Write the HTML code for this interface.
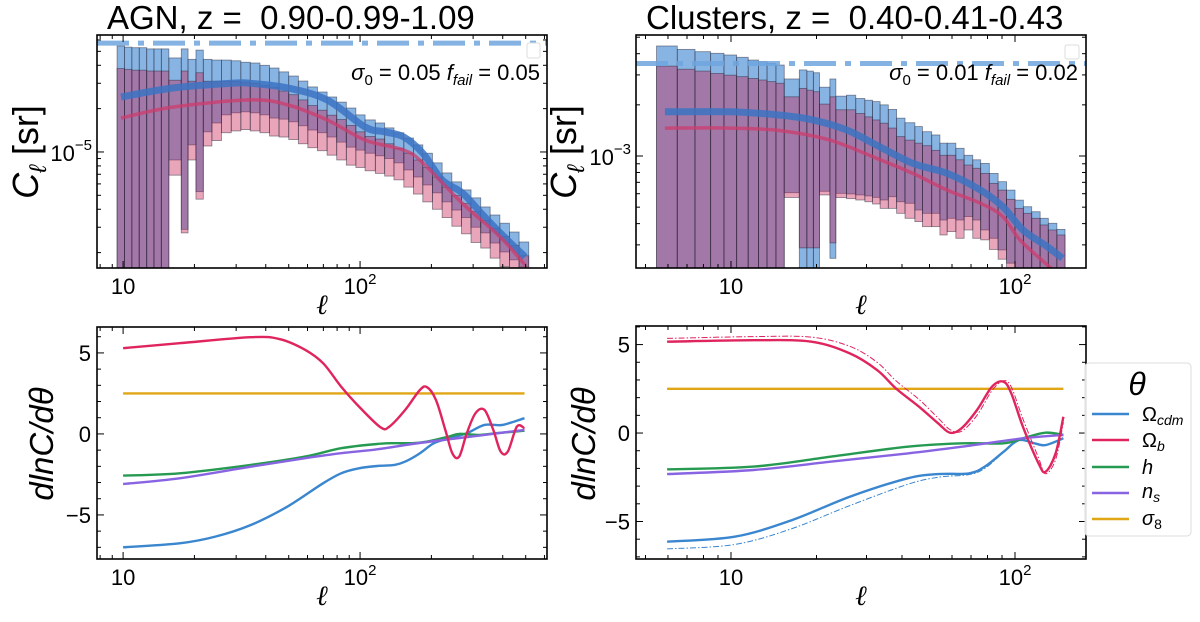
<!DOCTYPE html>
<html><head><meta charset="utf-8">
<style>
html,body{margin:0;padding:0;background:#fff;}
svg{display:block;font-family:"Liberation Sans","DejaVu Sans",sans-serif;}
</style></head>
<body>
<svg id="fig" width="1200" height="622" viewBox="0 0 1200 622" xmlns="http://www.w3.org/2000/svg"></svg>
<script>
// ---------- AGN top panel data ----------
const agnEdges=[9.43,10.14,10.89,11.7,12.58,13.5,14.5,15.6,17.6,18.8,20.3,21.8,23.7,26.0,28.6,31.4,34.4,37.8,41.5,45.5,50.0,54.9,60.2,66.1,72.6,79.7,87.5,96.0,105,116,127,139,153,168,184,202,222,244,268,294,323,354,389,427,469,515];
const agnBlueTop=[5.45e-5,5.35e-5,5.3e-5,5.3e-5,5.2e-5,5.2e-5,5.2e-5,4.5e-5,5.2e-5,4.4e-5,5.1e-5,4.4e-5,4.35e-5,4.35e-5,4.3e-5,4.2e-5,4.15e-5,4.0e-5,3.83e-5,3.6e-5,3.37e-5,3.11e-5,2.83e-5,2.61e-5,2.41e-5,2.22e-5,2.02e-5,1.81e-5,1.67e-5,1.59e-5,1.47e-5,1.36e-5,1.25e-5,1.12e-5,9.8e-6,8.4e-6,7.15e-6,6.2e-6,5.45e-6,4.8e-6,4.15e-6,3.65e-6,3.2e-6,2.78e-6,2.37e-6];
const agnPinkTop=[3.8e-5,3.75e-5,3.7e-5,3.7e-5,3.65e-5,3.65e-5,3.65e-5,3.15e-5,3.65e-5,3.1e-5,3.55e-5,3.1e-5,3.1e-5,3.1e-5,3.1e-5,3.05e-5,3.0e-5,2.9e-5,2.8e-5,2.65e-5,2.5e-5,2.3e-5,2.1e-5,1.95e-5,1.8e-5,1.68e-5,1.53e-5,1.38e-5,1.28e-5,1.23e-5,1.14e-5,1.06e-5,9.8e-6,8.8e-6,7.8e-6,6.7e-6,5.7e-6,5.0e-6,4.4e-6,3.85e-6,3.35e-6,2.95e-6,2.58e-6,2.24e-6,1.9e-6];
const agnBlueBot=[1e-7,1e-7,1e-7,1e-7,1e-7,1e-7,1e-7,8.8e-6,2.9e-6,1.12e-5,5.3e-6,1.38e-5,1.59e-5,1.81e-5,1.87e-5,1.9e-5,1.87e-5,1.81e-5,1.72e-5,1.69e-5,1.62e-5,1.52e-5,1.42e-5,1.36e-5,1.27e-5,1.17e-5,1.08e-5,1.03e-5,9.8e-6,9.4e-6,9.0e-6,8.4e-6,7.5e-6,6.7e-6,5.9e-6,5.2e-6,4.5e-6,3.95e-6,3.5e-6,3.0e-6,2.74e-6,2.33e-6,2.02e-6,1.78e-6,1.6e-6];
const agnPinkBot=[1e-7,1e-7,1e-7,1e-7,1e-7,1e-7,1e-7,6.9e-6,2.74e-6,8.8e-6,4.7e-6,1.1e-5,1.2e-5,1.36e-5,1.4e-5,1.43e-5,1.4e-5,1.36e-5,1.29e-5,1.27e-5,1.22e-5,1.14e-5,1.07e-5,1.02e-5,9.5e-6,8.8e-6,8.1e-6,7.8e-6,7.4e-6,7.1e-6,6.8e-6,6.4e-6,5.7e-6,5.1e-6,4.5e-6,4.0e-6,3.5e-6,3.05e-6,2.7e-6,2.35e-6,2.15e-6,1.83e-6,1.6e-6,1.4e-6,1.27e-6];
const agnBlueLineEll=[9.8,16.2,28.6,34.4,49.7,72.5,105,127,153,184,222,270,324,390,497];
const agnBlueLineVal=[2.41e-5,2.78e-5,3.0e-5,3.0e-5,2.78e-5,2.3e-5,1.49e-5,1.38e-5,1.27e-5,9.8e-6,6.4e-6,5.2e-6,3.77e-6,2.74e-6,1.87e-6];
const agnPinkLineEll=[9.8,16.2,34.4,49.7,72.5,105,153,184,270,390,497];
const agnPinkLineVal=[1.72e-5,2.05e-5,2.3e-5,2.12e-5,1.67e-5,1.21e-5,1.03e-5,8.4e-6,4.4e-6,2.57e-6,1.64e-6];
const agnShotNoise=[5.7e-5];
// ---------- Clusters top panel data ----------
const cluEdges=[5.47,6.47,7.47,8.48,9.45,10.47,11.5,12.5,13.4,14.4,15.4,17.4,18.5,19.5,20.5,22.3,23.4,25.5,27.5,29.6,31.5,33.5,35.8,38.3,41.0,44.4,47.2,50.9,54.4,57.7,61.9,66.2,71.0,75.7,81.2,87.2,93.4,100,107,114.5,122.6,131,140.4,150];
const cluBlueTop=[4.44e-3,4.24e-3,4.11e-3,4.02e-3,3.93e-3,3.81e-3,3.67e-3,3.59e-3,3.51e-3,3.43e-3,2.84e-3,3.21e-3,3.16e-3,3.09e-3,2.54e-3,2.84e-3,2.25e-3,2.28e-3,2.18e-3,2.13e-3,2.09e-3,2.0e-3,1.88e-3,1.67e-3,1.57e-3,1.49e-3,1.39e-3,1.33e-3,1.19e-3,1.19e-3,1.11e-3,1.01e-3,9.5e-4,9.05e-4,7.9e-4,7.06e-4,6.3e-4,5.5e-4,5.03e-4,4.7e-4,4.3e-4,4.02e-4,3.7e-4];
const cluPinkTop=[3.38e-3,3.24e-3,3.16e-3,3.06e-3,2.99e-3,2.93e-3,2.86e-3,2.8e-3,2.74e-3,2.68e-3,2.23e-3,2.5e-3,2.44e-3,2.39e-3,2.02e-3,2.23e-3,1.87e-3,1.87e-3,1.78e-3,1.7e-3,1.63e-3,1.56e-3,1.46e-3,1.3e-3,1.24e-3,1.19e-3,1.15e-3,1.08e-3,1.01e-3,1.01e-3,9.5e-4,8.85e-4,8.47e-4,7.9e-4,6.9e-4,6.3e-4,5.56e-4,4.92e-4,4.6e-4,4.3e-4,3.93e-4,3.67e-4,3.43e-4];
const cluBlueBot=[1e-5,1e-5,1e-5,1e-5,1e-5,1e-5,1e-5,1e-5,1e-5,1e-5,6.08e-4,1e-5,1e-5,1e-5,6.2e-4,2.5e-4,6.03e-4,5.98e-4,5.9e-4,5.82e-4,5.71e-4,5.51e-4,5.76e-4,5.38e-4,5.27e-4,4.81e-4,4.6e-4,4.6e-4,4.2e-4,4.3e-4,4.2e-4,4.4e-4,4.2e-4,3.67e-4,3.28e-4,2.8e-4,2.34e-4,1e-5,1e-5,1e-5,1e-5,1e-5,1e-5];
const cluPinkBot=[1e-5,1e-5,1e-5,1e-5,1e-5,1e-5,1e-5,1e-5,1e-5,1e-5,5.7e-4,2.88e-4,2.88e-4,2.88e-4,5.9e-4,3.08e-4,5.69e-4,5.61e-4,5.51e-4,5.38e-4,5.22e-4,4.92e-4,4.92e-4,4.6e-4,4.3e-4,4.11e-4,3.84e-4,3.84e-4,3.43e-4,3.59e-4,3.28e-4,3.67e-4,3.28e-4,3.21e-4,2.82e-4,2.47e-4,2.1e-4,1e-5,1e-5,1e-5,1e-5,1e-5,1e-5];
const cluBlueLineEll=[5.85,9.92,14.9,19.4,25.6,33.5,43.7,57.7,75.6,90.6,106.7,129.8,147];
const cluBlueLineVal=[1.82e-3,1.82e-3,1.74e-3,1.63e-3,1.42e-3,1.13e-3,9.05e-4,7.9e-4,6.3e-4,5.03e-4,3.67e-4,2.93e-4,2.5e-4];
const cluPinkLineEll=[5.85,9.92,14.9,22.3,33.5,43.7,57.7,75.6,90.6,104,129.8,140];
const cluPinkLineVal=[1.46e-3,1.46e-3,1.41e-3,1.24e-3,9.5e-4,7.9e-4,6.3e-4,5.27e-4,4.4e-4,3.21e-4,2.29e-4,2.05e-4];
const cluShotNoise=[3.5e-3];
// ---------- derivative panels ----------
const agnObEll=[10,17.3,34.6,45.9,58.6,69.9,83.2,98.9,122,133,155,179,192,209,229,245,262,282,307,335,365,392,420,459,494];
const agnObVal=[5.29,5.6,5.97,5.85,5.19,4.36,2.92,1.69,0.41,0.45,1.48,2.72,2.88,2.1,0.25,-1.19,-1.4,0.04,1.28,1.48,0.25,-1.09,-1.09,0.45,0.35];
const agnOcEll=[10,17.3,24.5,34.6,49.3,69.9,83.2,98.9,118,140,155,179,205,237,282,335,399,494];
const agnOcVal=[-7.0,-6.75,-6.34,-5.62,-4.49,-3.04,-2.43,-2.12,-1.98,-1.91,-1.71,-1.19,-0.57,-0.27,0.04,0.56,0.56,0.97];
const agnHEll=[10,17.3,34.6,58.6,83.2,118,140,166,192,237,262,317,380,494];
const agnHVal=[-2.57,-2.43,-1.91,-1.4,-0.88,-0.62,-0.57,-0.57,-0.47,-0.16,0,-0.06,0.05,0.2];
const agnNsEll=[10,17.3,34.6,58.6,83.2,118,166,237,335,494];
const agnNsVal=[-3.09,-2.74,-2.02,-1.5,-1.19,-0.95,-0.62,-0.33,-0.06,0.25];
const agnS8Ell=[10,494];
const agnS8Val=[2.5,2.5];
const cluObEll=[5.96,12.0,19.2,26.2,32.7,38.1,45.9,53.6,59,64.8,73.5,83,91.1,97,106.6,121,128,139,148];
const cluObVal=[5.16,5.25,5.16,4.5,3.56,2.52,1.49,0.55,0.02,0.27,1.3,2.62,2.9,2.24,0.36,-1.71,-2.19,-1.15,0.92];
const cluObDashVal=[5.35,5.45,5.42,4.9,4.0,2.95,1.9,0.85,0.2,0.1,1.0,2.4,2.95,2.6,0.8,-1.4,-2.3,-1.5,0.6];
const cluOcEll=[5.96,10.3,16.4,26.2,41.9,53.6,68.8,78.3,91.1,103,117,128,148];
const cluOcVal=[-6.14,-5.86,-4.92,-3.6,-2.56,-2.32,-2.28,-1.9,-1.06,-0.4,-0.58,-0.68,-0.3];
const cluOcDashVal=[-6.55,-6.3,-5.4,-4.1,-2.9,-2.5,-2.35,-2.0,-1.1,-0.45,-0.6,-0.7,-0.3];
const cluHEll=[5.96,12.0,22.4,41.9,65,91,106.6,128,148];
const cluHVal=[-2.05,-1.9,-1.34,-0.77,-0.58,-0.58,-0.3,0.02,-0.11];
const cluNsEll=[5.96,12.0,22.4,41.9,65,106.6,148];
const cluNsVal=[-2.32,-2.09,-1.62,-1.15,-0.77,-0.3,-0.11];
const cluS8Ell=[5.96,148];
const cluS8Val=[2.5,2.5];

const NS="http://www.w3.org/2000/svg";
const svg=document.getElementById('fig');
function mk(tag,attrs,parent){const e=document.createElementNS(NS,tag);for(const k in attrs)e.setAttribute(k,attrs[k]);(parent||svg).appendChild(e);return e;}

const P={
 tl:{x0:97,x1:547,y0:35,y1:268,lx0:Math.log10(7.76),lx1:Math.log10(615),ly0:-4.1875,ly1:-5.806,logy:true},
 tr:{x0:636,x1:1086,y0:35,y1:268,lx0:Math.log10(4.63),lx1:Math.log10(177.8),ly0:-2.288,ly1:-3.659,logy:true},
 bl:{x0:97,x1:547,y0:327,y1:559,lx0:Math.log10(7.76),lx1:Math.log10(615),ly0:6.6,ly1:-7.72,logy:false},
 br:{x0:636,x1:1086,y0:326,y1:559,lx0:Math.log10(4.63),lx1:Math.log10(177.8),ly0:6.05,ly1:-7.12,logy:false}
};
function X(p,l){return p.x0+(Math.log10(l)-p.lx0)/(p.lx1-p.lx0)*(p.x1-p.x0);}
function Y(p,v){const t=p.logy?Math.log10(v):v;return p.y0+(p.ly0-t)/(p.ly0-p.ly1)*(p.y1-p.y0);}

const defs=mk('defs',{});
for(const k in P){const p=P[k];const c=mk('clipPath',{id:'clip-'+k},defs);mk('rect',{x:p.x0,y:p.y0,width:p.x1-p.x0,height:p.y1-p.y0},c);}

function axes(k,name){
 const p=P[k];
 const g=mk('g',{});
 
 
 for(let d=0;d<4;d++){for(let m=1;m<10;m++){const l=m*Math.pow(10,d);const x=X(p,l);if(x<p.x0-0.5||x>p.x1+0.5)continue;const len=m===1?7:4;
  mk('line',{x1:x,x2:x,y1:p.y1,y2:p.y1-len,stroke:'#000','stroke-width':1},g);
  mk('line',{x1:x,x2:x,y1:p.y0,y2:p.y0+len,stroke:'#000','stroke-width':1},g);
  if(m===1){const t=mk('text',{x:x,y:p.y1+26,'font-size':22,'text-anchor':'middle'},g);
   t.textContent='10';if(d!==1){const s=mk('tspan',{'font-size':15,dy:-10},t);s.textContent=String(d);}
   }
 }}
 if(p.logy){
  for(let d=-7;d<=-1;d++){for(let m=1;m<10;m++){const v=m*Math.pow(10,d);const y=Y(p,v);if(y<p.y0-0.5||y>p.y1+0.5)continue;const len=m===1?7:4;
   mk('line',{x1:p.x0,x2:p.x0+len,y1:y,y2:y,stroke:'#000','stroke-width':1},g);
   mk('line',{x1:p.x1,x2:p.x1-len,y1:y,y2:y,stroke:'#000','stroke-width':1},g);
   if(m===1){const t=mk('text',{x:p.x0-5,y:y+9,'font-size':22,'text-anchor':'end'},g);
    t.textContent='10';const s=mk('tspan',{'font-size':15,dy:-11},t);s.textContent='\u2212'+(-d);
    }
  }}
 } else {
  for(let v=-7;v<=6;v++){const y=Y(p,v);if(y<p.y0||y>p.y1)continue;const len=(v%5===0)?7:4;
   mk('line',{x1:p.x0,x2:p.x0+len,y1:y,y2:y,stroke:'#000','stroke-width':1},g);
   mk('line',{x1:p.x1,x2:p.x1-len,y1:y,y2:y,stroke:'#000','stroke-width':1},g);
   if(v%5===0){const t=mk('text',{x:p.x0-6,y:y+8,'font-size':22,'text-anchor':'end'},g);t.textContent=v<0?'\u2212'+(-v):String(v);
    }
  }
 }
 const fr=mk('rect',{x:p.x0,y:p.y0,width:p.x1-p.x0,height:p.y1-p.y0,fill:'none',stroke:'#000','stroke-width':1.6},g);
 
 const xl=mk('text',{x:(p.x0+p.x1)/2,y:p.y1+46,'font-size':28,'font-style':'italic','text-anchor':'middle','font-family':'"DejaVu Serif",serif'},g);
 xl.textContent='\u2113';
 
}

function bars(k,edges,bt,pt,bb,pb,name){
 const p=P[k];const g=mk('g',{'clip-path':'url(#clip-'+k+')'});
 
 for(let i=0;i<bt.length;i++){
  const xa=X(p,edges[i]),xb=X(p,edges[i+1]);
  const y1=Y(p,bt[i]),y2=Math.min(Y(p,bb[i]),p.y1+5);
  const r=mk('rect',{x:xa,y:y1,width:xb-xa,height:y2-y1,fill:'rgb(70,140,210)','fill-opacity':0.65,stroke:'rgba(40,40,60,0.55)','stroke-width':0.8},g);
  
  const y3=Y(p,pt[i]),y4=Math.min(Y(p,pb[i]),p.y1+5);
  const r2=mk('rect',{x:xa,y:y3,width:xb-xa,height:y4-y3,fill:'rgb(200,30,80)','fill-opacity':0.4,stroke:'rgba(40,40,60,0.55)','stroke-width':0.8},g);
  
 }
}
function line(k,ells,vals,attrs,name){
 const p=P[k];
 const pts=ells.map((l,i)=>[X(p,l),Y(p,vals[i])]);
 let d='M'+pts[0][0].toFixed(1)+' '+pts[0][1].toFixed(1);
 for(let i=0;i<pts.length-1;i++){
  const p0=pts[Math.max(0,i-1)],p1=pts[i],p2=pts[i+1],p3=pts[Math.min(pts.length-1,i+2)];
  const c1=[p1[0]+(p2[0]-p0[0])/6,p1[1]+(p2[1]-p0[1])/6];
  const c2=[p2[0]-(p3[0]-p1[0])/6,p2[1]-(p3[1]-p1[1])/6];
  d+='C'+c1[0].toFixed(1)+' '+c1[1].toFixed(1)+' '+c2[0].toFixed(1)+' '+c2[1].toFixed(1)+' '+p2[0].toFixed(1)+' '+p2[1].toFixed(1);
 }
 const a=Object.assign({d:d,fill:'none','stroke-linejoin':'round','stroke-linecap':'butt','clip-path':'url(#clip-'+k+')'},attrs);
 const e=mk('path',a);
 
 return e;
}
function hline(k,v,attrs,name){
 const p=P[k];const y=Y(p,v);
 const e=mk('line',Object.assign({x1:p.x0,x2:p.x1,y1:y,y2:y,'clip-path':'url(#clip-'+k+')'},attrs));
 
}

bars('tl',agnEdges,agnBlueTop,agnPinkTop,agnBlueBot,agnPinkBot,'agn-error-bars');
line('tl',agnBlueLineEll,agnBlueLineVal,{stroke:'rgb(60,115,195)','stroke-opacity':0.85,'stroke-width':7},'agn-blue-model-line');
line('tl',agnPinkLineEll,agnPinkLineVal,{stroke:'rgb(205,60,110)','stroke-opacity':0.75,'stroke-width':3.5},'agn-pink-model-line');
hline('tl',agnShotNoise[0],{stroke:'rgb(110,165,222)','stroke-opacity':0.85,'stroke-width':5,'stroke-dasharray':'32 9 6 9'},'agn-shot-noise-line');
bars('tr',cluEdges,cluBlueTop,cluPinkTop,cluBlueBot,cluPinkBot,'clusters-error-bars');
line('tr',cluBlueLineEll,cluBlueLineVal,{stroke:'rgb(60,115,195)','stroke-opacity':0.85,'stroke-width':7},'clusters-blue-model-line');
line('tr',cluPinkLineEll,cluPinkLineVal,{stroke:'rgb(205,60,110)','stroke-opacity':0.75,'stroke-width':3.5},'clusters-pink-model-line');
hline('tr',cluShotNoise[0],{stroke:'rgb(110,165,222)','stroke-opacity':0.85,'stroke-width':5,'stroke-dasharray':'32 9 6 9'},'clusters-shot-noise-line');

const C={oc:'#3a86cf',ob:'#e0245e',h:'#279a52',ns:'#8864e2',s8:'#e0a616'};
line('bl',agnS8Ell,agnS8Val,{stroke:C.s8,'stroke-width':2.4},'agn-sigma8-line');
line('bl',agnOcEll,agnOcVal,{stroke:C.oc,'stroke-width':2.4},'agn-omega-cdm-line');
line('bl',agnHEll,agnHVal,{stroke:C.h,'stroke-width':2.4},'agn-h-line');
line('bl',agnNsEll,agnNsVal,{stroke:C.ns,'stroke-width':2.4},'agn-ns-line');
line('bl',agnObEll,agnObVal,{stroke:C.ob,'stroke-width':2.4},'agn-omega-b-line');
line('br',cluS8Ell,cluS8Val,{stroke:C.s8,'stroke-width':2.4},'clusters-sigma8-line');
line('br',cluOcEll,cluOcDashVal,{stroke:C.oc,'stroke-width':1,'stroke-dasharray':'6 2 1.5 2'},'clusters-omega-cdm-dashdot');
line('br',cluOcEll,cluOcVal,{stroke:C.oc,'stroke-width':2.4},'clusters-omega-cdm-line');
line('br',cluHEll,cluHVal,{stroke:C.h,'stroke-width':2.4},'clusters-h-line');
line('br',cluNsEll,cluNsVal,{stroke:C.ns,'stroke-width':2.4},'clusters-ns-line');
line('br',cluObEll,cluObDashVal,{stroke:C.ob,'stroke-width':1,'stroke-dasharray':'6 2 1.5 2'},'clusters-omega-b-dashdot');
line('br',cluObEll,cluObVal,{stroke:C.ob,'stroke-width':2.4},'clusters-omega-b-line');

axes('tl','agn-power');axes('tr','clusters-power');axes('bl','agn-derivative');axes('br','clusters-derivative');
</script>
<svg style="position:absolute;left:0;top:0" width="1200" height="622" font-family="Liberation Sans, DejaVu Sans, sans-serif">
 <text x="107" y="29" font-size="33" xml:space="preserve">AGN, z =  0.90-0.99-1.09</text>
 <text x="646" y="29" font-size="33" xml:space="preserve">Clusters, z =  0.40-0.41-0.43</text>
 <text x="540" y="80" font-size="22" text-anchor="end"><tspan font-style="italic">σ</tspan><tspan font-size="15" dy="5">0</tspan><tspan dy="-5"> = 0.05 </tspan><tspan font-style="italic">f</tspan><tspan font-size="15" dy="5" font-style="italic">fail</tspan><tspan dy="-5"> = 0.05</tspan></text>
 <text x="1078" y="80" font-size="22" text-anchor="end"><tspan font-style="italic">σ</tspan><tspan font-size="15" dy="5">0</tspan><tspan dy="-5"> = 0.01 </tspan><tspan font-style="italic">f</tspan><tspan font-size="15" dy="5" font-style="italic">fail</tspan><tspan dy="-5"> = 0.02</tspan></text>
 <rect x="527" y="43" width="13" height="15" rx="2" fill="#fff" stroke="#ddd"/>
 <rect x="1065" y="45" width="14" height="14" rx="2" fill="#fff" stroke="#ddd"/>
 <text transform="translate(38,152) rotate(-90)" font-size="36" text-anchor="middle"><tspan font-style="italic">C</tspan><tspan font-size="24" dy="8" font-style="italic">ℓ</tspan><tspan dy="-8"> [sr]</tspan></text>
 <text transform="translate(576,152) rotate(-90)" font-size="36" text-anchor="middle"><tspan font-style="italic">C</tspan><tspan font-size="24" dy="8" font-style="italic">ℓ</tspan><tspan dy="-8"> [sr]</tspan></text>
 <text transform="translate(53,444) rotate(-90)" font-size="33" font-style="italic" text-anchor="middle">dlnC/dθ</text>
 <text transform="translate(595,444) rotate(-90)" font-size="33" font-style="italic" text-anchor="middle">dlnC/dθ</text>
 <g>
  <rect x="1085" y="363" width="106" height="173" rx="4" fill="#fff" fill-opacity="0.9" stroke="#dcdcdc"/>
  <text x="1137" y="395" font-size="32" font-style="italic" text-anchor="middle">θ</text>
  <g><line x1="1092" x2="1129" y1="414" y2="414" stroke="#3a86cf" stroke-width="2.4"/><text x="1142" y="421" font-size="20">Ω<tspan font-size="14" dy="4" font-style="italic">cdm</tspan></text></g>
  <g><line x1="1092" x2="1129" y1="440" y2="440" stroke="#e0245e" stroke-width="2.4"/><text x="1142" y="447" font-size="20">Ω<tspan font-size="14" dy="4" font-style="italic">b</tspan></text></g>
  <g><line x1="1092" x2="1129" y1="467" y2="467" stroke="#279a52" stroke-width="2.4"/><text x="1142" y="474" font-size="20" font-style="italic">h</text></g>
  <g><line x1="1092" x2="1129" y1="493" y2="493" stroke="#8864e2" stroke-width="2.4"/><text x="1142" y="498" font-size="20" font-style="italic">n<tspan font-size="14" dy="4">s</tspan></text></g>
  <g><line x1="1092" x2="1129" y1="519" y2="519" stroke="#e0a616" stroke-width="2.4"/><text x="1142" y="525" font-size="20"><tspan font-style="italic">σ</tspan><tspan font-size="14" dy="4">8</tspan></text></g>
 </g>
</svg>
</body></html>
